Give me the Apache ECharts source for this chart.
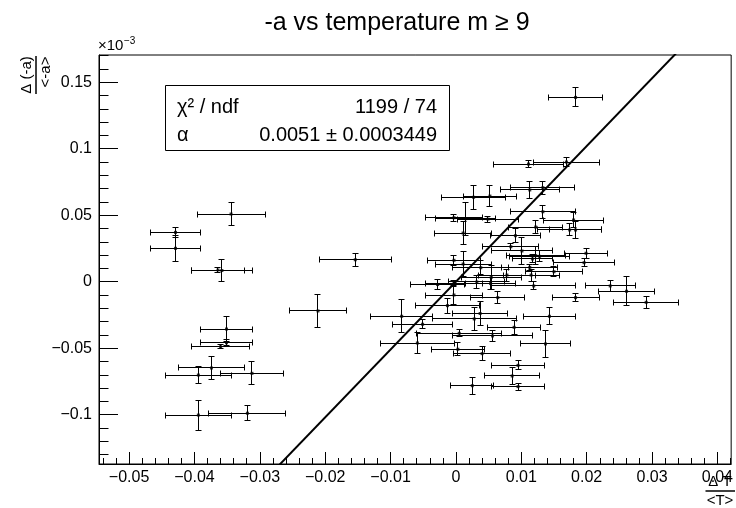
<!DOCTYPE html>
<html><head><meta charset="utf-8">
<script src="https://cdn.jsdelivr.net/npm/echarts@6/dist/echarts.min.js"></script>
<style>html,body{margin:0;padding:0;background:#fff}#c{width:736px;height:508px}</style>
</head><body><div id="c"></div>
<script>
// ---- data (y values in units of 1e-3) ----
const xValues = [
-0.0344,-0.0429,-0.0429,-0.0364,-0.0358,-0.0351,-0.0351,-0.0360,-0.0374,-0.0394,
-0.0312,-0.0394,-0.0319,-0.0154,-0.0211,-0.0083,-0.0051,-0.0059,0.0111,0.0169,
0.0027,0.0052,0.0113,0.0133,-0.0003,0.0015,0.0049,0.0133,0.0011,0.0122,
0.0174,0.0183,0.0180,0.0183,0.0199,0.0196,0.0128,0.0122,0.0150,0.0236,
0.0261,0.0291,0.0183,0.0143,-0.0028,0.0032,0.0053,0.0119,-0.0003,0.0064,
-0.0013,0.0037,0.0028,0.0089,0.0005,0.0056,0.0137,0.0003,0.0040,0.0095,
0.0086,0.0025,0.0095,0.0091,0.0084,0.0101,0.0117,-0.0003,0.0011,0.0038,
0.0113,0.0078,0.0115,0.0054,-0.0003];
const yValues = [
0.0509,0.0371,0.0251,0.0088,0.0084,-0.0356,-0.0459,-0.0489,-0.0649,-0.0702,
-0.0689,-0.1003,-0.0989,0.0165,-0.0220,-0.0260,-0.0320,-0.0461,0.0885,0.0900,
0.0635,0.0644,0.0690,0.0707,0.0481,0.0474,0.0471,0.0526,0.0366,0.0411,
0.0389,0.0389,0.0464,0.1386,0.0214,0.0143,0.0191,0.0196,0.0075,-0.0032,
-0.0072,-0.0155,-0.0120,-0.0260,-0.0021,-0.0002,-0.0014,-0.0032,-0.0100,-0.0120,
-0.0180,-0.0239,-0.0280,-0.0343,-0.0388,-0.0408,-0.0468,-0.0508,-0.0541,-0.0629,
-0.0709,-0.0782,-0.0789,0.0346,0.0263,0.0231,0.0171,0.0161,0.0133,0.0105,
0.0108,0.0050,0.0050,0.0033,-0.0012];
const xErrors = [
0.0052,0.00375,0.00375,0.0041,0.0047,0.0040,0.0040,0.0044,0.0050,0.0051,
0.0048,0.0051,0.0059,0.0055,0.0044,0.0047,0.0046,0.0057,0.0054,0.0050,
0.0049,0.0041,0.0045,0.0049,0.0044,0.0046,0.0046,0.0050,0.0044,0.0041,
0.0049,0.0040,0.0046,0.0041,0.0033,0.0046,0.0046,0.0045,0.0044,0.0038,
0.0043,0.0050,0.0036,0.0040,0.0041,0.0043,0.0038,0.0064,0.0044,0.0041,
0.0049,0.0042,0.0064,0.0040,0.0065,0.0061,0.0039,0.0041,0.0043,0.0041,
0.0042,0.0033,0.0040,0.0038,0.0043,0.0047,0.0031,0.0040,0.0043,0.0043,
0.0043,0.0043,0.0043,0.0046,0.0043];
const yErrors = [
0.0084,0.0038,0.0098,0.0020,0.0085,0.0096,0.0023,0.0015,0.0088,0.0062,
0.0086,0.0113,0.0058,0.0047,0.0122,0.0124,0.0034,0.0081,0.0023,0.0035,
0.0090,0.0081,0.0066,0.0050,0.0026,0.0124,0.0023,0.0050,0.0088,0.0051,
0.0045,0.0062,0.0060,0.0071,0.0038,0.0030,0.0041,0.0069,0.0038,0.0040,
0.0110,0.0047,0.0030,0.0065,0.0038,0.0050,0.0045,0.0030,0.0075,0.0045,
0.0056,0.0090,0.0085,0.0053,0.0025,0.0038,0.0103,0.0050,0.0053,0.0035,
0.0064,0.0065,0.0026,0.0053,0.0025,0.0105,0.0030,0.0038,0.0094,0.0053,
0.0023,0.0045,0.0045,0.0090,0.0023];
const xMajorTicks = [-0.05,-0.04,-0.03,-0.02,-0.01,0,0.01,0.02,0.03,0.04];
const yMajorTicks = [-0.1,-0.05,0,0.05,0.1,0.15];
const xRange = [-0.0546, 0.0421];
const yRange = [-0.1371, 0.1705];
const fitAlpha = 0.0051;
const fitAlphaErr = 0.0003449;
const chi2 = 1199, ndf = 74;
const titleText = '-a vs temperature m \u2265 9';

// minor tick positions
const xMinorTicks = [], yMinorTicks = [];
for (let k = -27; k <= 21; k++) if (k % 5 !== 0) xMinorTicks.push(+(k * 0.002).toFixed(4));
for (let k = -13; k <= 17; k++) if (k % 5 !== 0) yMinorTicks.push(+(k * 0.01).toFixed(3));

const FONT = '"Liberation Sans", Arial, Helvetica, sans-serif';
function fmt(v) {
  const r = Math.round(v * 1e6) / 1e6;
  if (r === 0) return '0';
  return (r < 0 ? '\u2212' : '') + String(Math.abs(r));
}

const pts = xValues.map((x, i) => [x, yValues[i], xErrors[i], yErrors[i]]);
const fitData = [[xRange[0], fitAlpha / 1e-3 * xRange[0]], [xRange[1], fitAlpha / 1e-3 * xRange[1]]];

function crisp(v) { return Math.round(v - 0.5) + 0.5; }

const chart = echarts.init(document.getElementById('c'), null, {renderer: 'canvas'});
const baseX = {type: 'value', min: xRange[0], max: xRange[1], position: 'bottom', splitLine: {show: false}};
const baseY = {type: 'value', min: yRange[0], max: yRange[1], position: 'left', splitLine: {show: false}};
chart.setOption({
  animation: false,
  backgroundColor: '#fff',
  grid: {left: 99, top: 55, right: 1, bottom: 44, show: true, borderColor: '#000', borderWidth: 1, backgroundColor: 'transparent'},
  xAxis: [
    Object.assign({}, baseX, {
      axisLine: {show: true, onZero: false, lineStyle: {color: '#000', width: 1}},
      axisTick: {show: true, inside: true, length: 12, customValues: xMajorTicks, lineStyle: {color: '#000'}},
      axisLabel: {show: true, customValues: xMajorTicks, formatter: fmt, color: '#000', fontSize: 16, fontFamily: FONT, margin: 6}
    }),
    Object.assign({}, baseX, {
      axisLine: {show: false, onZero: false},
      axisTick: {show: true, inside: true, length: 6, customValues: xMinorTicks, lineStyle: {color: '#000'}},
      axisLabel: {show: false}
    })
  ],
  yAxis: [
    Object.assign({}, baseY, {
      axisLine: {show: true, onZero: false, lineStyle: {color: '#000', width: 1}},
      axisTick: {show: true, inside: true, length: 19, customValues: yMajorTicks, lineStyle: {color: '#000'}},
      axisLabel: {show: true, customValues: yMajorTicks, formatter: fmt, color: '#000', fontSize: 16, fontFamily: FONT, margin: 7}
    }),
    Object.assign({}, baseY, {
      axisLine: {show: false, onZero: false},
      axisTick: {show: true, inside: true, length: 9.5, customValues: yMinorTicks, lineStyle: {color: '#000'}},
      axisLabel: {show: false}
    })
  ],
  series: [
    {
      type: 'custom', xAxisIndex: 0, yAxisIndex: 0, clip: true, silent: true,
      data: pts,
      renderItem: function (params, api) {
        const x = api.value(0), y = api.value(1), ex = api.value(2), ey = api.value(3);
        const pL = api.coord([x - ex, y]), pR = api.coord([x + ex, y]);
        const pB = api.coord([x, y - ey]), pT = api.coord([x, y + ey]);
        const c = 3;
        const yy = crisp(pL[1]), xx = crisp(pB[0]);
        const st = {stroke: '#000', lineWidth: 1, fill: null};
        const L = (x1, y1, x2, y2) => ({type: 'line', shape: {x1, y1, x2, y2}, style: st});
        return {type: 'group', children: [
          L(pL[0], yy, pR[0], yy),
          L(crisp(pL[0]), yy - c, crisp(pL[0]), yy + c),
          L(crisp(pR[0]), yy - c, crisp(pR[0]), yy + c),
          L(xx, pB[1], xx, pT[1]),
          L(xx - c, crisp(pB[1]), xx + c, crisp(pB[1])),
          L(xx - c, crisp(pT[1]), xx + c, crisp(pT[1]))
        ]};
      }
    },
    {
      type: 'scatter', xAxisIndex: 0, yAxisIndex: 0, silent: true,
      data: pts.map(p => [p[0], p[1]]),
      symbol: 'rect', symbolSize: 3, itemStyle: {color: '#000'}
    },
    {
      type: 'line', xAxisIndex: 0, yAxisIndex: 0, silent: true, clip: true,
      data: fitData, symbol: 'none', lineStyle: {color: '#000', width: 2}
    }
  ],
  graphic: [
    {type: 'text', x: 397, y: 23, style: {text: titleText, font: '25px ' + FONT, fill: '#000', align: 'center', verticalAlign: 'middle', textAlign: 'center', textVerticalAlign: 'middle'}},
    {type: 'text', x: 98, y: 53, style: {text: '\u00d710', font: '15px ' + FONT, fill: '#000', align: 'left', verticalAlign: 'bottom', textAlign: 'left', textVerticalAlign: 'bottom'}},
    {type: 'text', x: 124, y: 36, style: {text: '\u22123', font: '10px ' + FONT, fill: '#000', align: 'left', verticalAlign: 'top', textAlign: 'left', textVerticalAlign: 'top'}},
    {type: 'group', x: 36, y: 75, rotation: Math.PI / 2, children: [
      {type: 'text', x: 0, y: -2, style: {text: '\u0394 (-a)', font: '15px ' + FONT, fill: '#000', align: 'center', verticalAlign: 'bottom', textAlign: 'center', textVerticalAlign: 'bottom'}},
      {type: 'line', shape: {x1: -19, y1: 0, x2: 19, y2: 0}, style: {stroke: '#000', lineWidth: 1.5}},
      {type: 'text', x: 3, y: 2, style: {text: '<-a>', font: '15px ' + FONT, fill: '#000', align: 'center', verticalAlign: 'top', textAlign: 'center', textVerticalAlign: 'top'}}
    ]},
    {type: 'group', x: 720, y: 491, children: [
      {type: 'text', x: 0, y: -2, style: {text: '\u0394 T', font: '15px ' + FONT, fill: '#000', align: 'center', verticalAlign: 'bottom', textAlign: 'center', textVerticalAlign: 'bottom'}},
      {type: 'line', shape: {x1: -14.5, y1: 0, x2: 15, y2: 0}, style: {stroke: '#000', lineWidth: 1.5}},
      {type: 'text', x: 0, y: 2, style: {text: '<T>', font: '15px ' + FONT, fill: '#000', align: 'center', verticalAlign: 'top', textAlign: 'center', textVerticalAlign: 'top'}}
    ]},
    {type: 'rect', z: 10, shape: {x: 165.5, y: 85.5, width: 284, height: 65}, style: {fill: '#fff', stroke: '#000', lineWidth: 1}},
    {type: 'text', z: 11, x: 177, y: 107, style: {text: '\u03c7\u00b2 / ndf', font: '20px ' + FONT, fill: '#000', align: 'left', verticalAlign: 'middle', textAlign: 'left', textVerticalAlign: 'middle'}},
    {type: 'text', z: 11, x: 437, y: 107, style: {text: chi2 + ' / ' + ndf, font: '20px ' + FONT, fill: '#000', align: 'right', verticalAlign: 'middle', textAlign: 'right', textVerticalAlign: 'middle'}},
    {type: 'text', z: 11, x: 177, y: 135, style: {text: '\u03b1', font: '20px ' + FONT, fill: '#000', align: 'left', verticalAlign: 'middle', textAlign: 'left', textVerticalAlign: 'middle'}},
    {type: 'text', z: 11, x: 437, y: 135, style: {text: fitAlpha.toFixed(4) + ' \u00b1 ' + fitAlphaErr.toFixed(7), font: '20px ' + FONT, fill: '#000', align: 'right', verticalAlign: 'middle', textAlign: 'right', textVerticalAlign: 'middle'}}
  ]
});
</script>
</body></html>
